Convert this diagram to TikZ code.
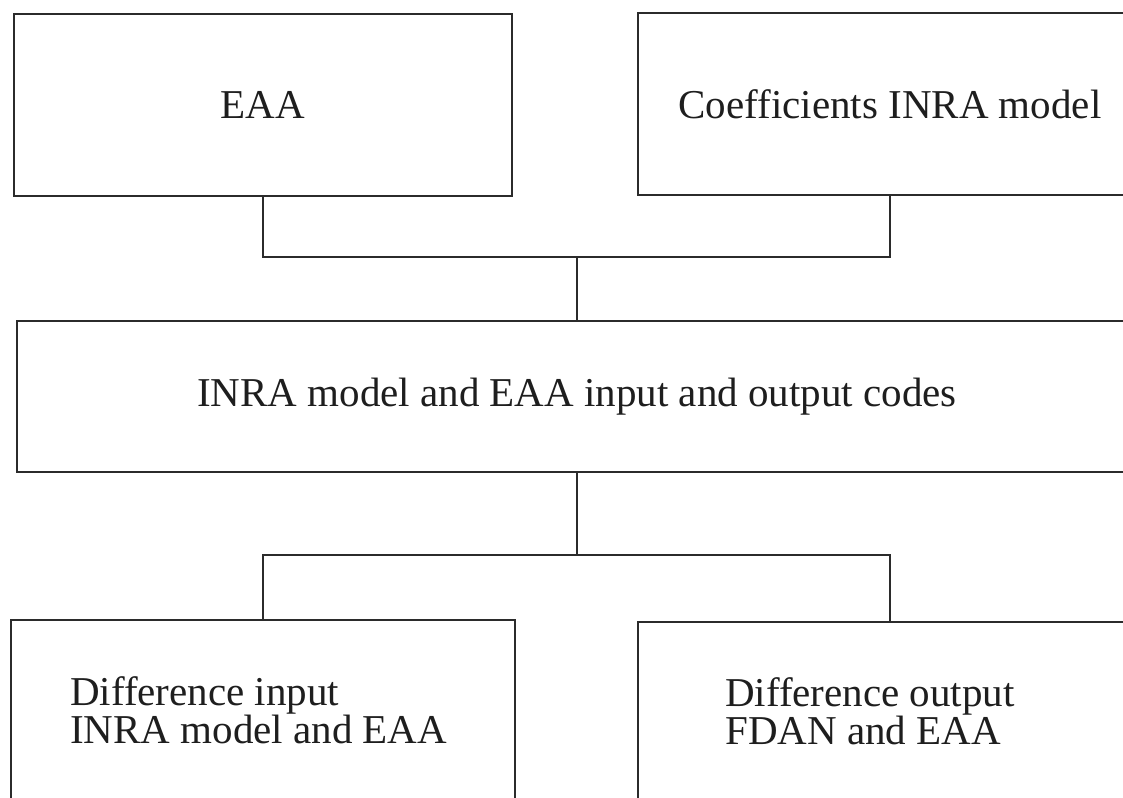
\documentclass[tikz,border=0pt]{standalone}
\usepackage{fontspec}
\setmainfont{Liberation Serif}
\definecolor{linecol}{HTML}{2B2B2B}
\definecolor{txtcol}{HTML}{1E1E1E}
\begin{document}
\begin{tikzpicture}[x=1pt,y=-1pt,
  box/.style={draw=linecol,line width=1.8pt,rectangle,inner sep=0pt,fill=none,text=txtcol,
    font=\fontsize{41}{38}\selectfont},
  lbl/.style={inner sep=0pt,align=left,text=txtcol,font=\fontsize{41}{38}\selectfont},
  conn/.style={draw=linecol,line width=1.6pt}]
\useasboundingbox (0,0) rectangle (1123,797);
\begin{scope}
\clip (0,0) rectangle (1123,797);
\fill[white] (0,0) rectangle (1123,797);
\node[box,minimum width=498pt,minimum height=182pt] (eaa) at (263,105) {EAA};
\node[box,minimum width=504pt,minimum height=182pt] (coef) at (890,104) {Coefficients INRA model};
\node[box,minimum width=1120pt,minimum height=151pt] (mid) at (577,396.5) {INRA model and EAA input and output codes};
\node[box,minimum width=504pt,minimum height=182pt] (dl) at (263,711) {};
\node[box,minimum width=504pt,minimum height=182pt] (dr) at (890,713) {};
\node[lbl,anchor=west] (dltxt) at (70,710) {Difference input\\INRA model and EAA};
\node[lbl,anchor=west] (drtxt) at (725,711) {Difference output\\FDAN and EAA};
\coordinate (j1) at (577,257);
\coordinate (j2) at (577,555);
\draw[conn] (eaa.south) |- (j1) -| (coef.south);
\draw[conn] (j1) -- (mid.north);
\draw[conn] (mid.south) -- (j2);
\draw[conn] (dl.north) |- (j2) -| (dr.north);
\end{scope}
\end{tikzpicture}
\end{document}
